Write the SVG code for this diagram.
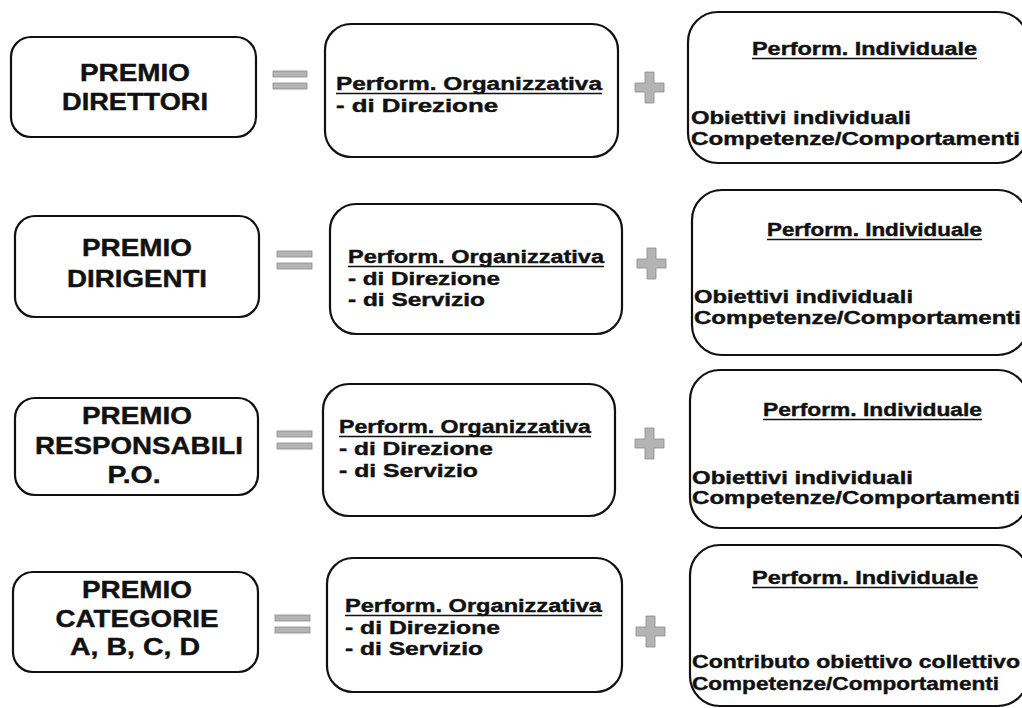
<svg xmlns="http://www.w3.org/2000/svg" width="1022" height="708" viewBox="0 0 1022 708">
<style>
.box{fill:#fff;stroke:#111;stroke-width:2.2}
.t{font-family:"Liberation Sans",Arial,sans-serif;font-weight:bold;fill:#111;stroke:#111;stroke-width:0.4}
.big{font-size:23px;text-anchor:middle}
.mid{font-size:17.5px}
.ul{stroke:#111;stroke-width:1.6}
.op{fill:#b4b4b4;stroke:#8a8a8a;stroke-width:0.8}
</style>
<rect width="1022" height="708" fill="#fff"/>

<!-- Row 1 -->
<g id="premio-direttori">
<rect class="box" x="11" y="37" width="245" height="100" rx="20"/>
<text class="t big" x="135" y="81" textLength="110" lengthAdjust="spacingAndGlyphs">PREMIO</text>
<text class="t big" x="135" y="110" textLength="146" lengthAdjust="spacingAndGlyphs">DIRETTORI</text>
</g>
<g id="org-direttori">
<rect class="box" x="325" y="24" width="293" height="133" rx="26"/>
<text class="t mid" x="336" y="90" textLength="266" lengthAdjust="spacingAndGlyphs">Perform. Organizzativa</text>
<line class="ul" x1="336" y1="93.5" x2="602" y2="93.5"/>
<text class="t mid" x="336" y="112" textLength="162" lengthAdjust="spacingAndGlyphs">-  di Direzione</text>
</g>
<g id="ind-direttori">
<rect class="box" x="688" y="12" width="340" height="151" rx="30"/>
<text class="t mid" x="752" y="55" textLength="225" lengthAdjust="spacingAndGlyphs">Perform. Individuale</text>
<line class="ul" x1="752" y1="58.5" x2="977" y2="58.5"/>
<text class="t mid" x="691" y="124" textLength="220" lengthAdjust="spacingAndGlyphs">Obiettivi individuali</text>
<text class="t mid" x="691" y="145" textLength="329" lengthAdjust="spacingAndGlyphs">Competenze/Comportamenti</text>
</g>

<!-- Row 2 -->
<g id="premio-dirigenti">
<rect class="box" x="15" y="216" width="244" height="101" rx="20"/>
<text class="t big" x="137" y="256" textLength="110" lengthAdjust="spacingAndGlyphs">PREMIO</text>
<text class="t big" x="137" y="287" textLength="140" lengthAdjust="spacingAndGlyphs">DIRIGENTI</text>
</g>
<g id="org-dirigenti">
<rect class="box" x="330" y="204" width="292" height="130" rx="26"/>
<text class="t mid" x="348" y="263" textLength="256" lengthAdjust="spacingAndGlyphs">Perform. Organizzativa</text>
<line class="ul" x1="348" y1="266.5" x2="604" y2="266.5"/>
<text class="t mid" x="348" y="285" textLength="152" lengthAdjust="spacingAndGlyphs">-  di Direzione</text>
<text class="t mid" x="348" y="306" textLength="137" lengthAdjust="spacingAndGlyphs">-  di Servizio</text>
</g>
<g id="ind-dirigenti">
<rect class="box" x="692" y="190" width="336" height="165" rx="30"/>
<text class="t mid" x="767" y="236" textLength="215" lengthAdjust="spacingAndGlyphs">Perform. Individuale</text>
<line class="ul" x1="767" y1="239.5" x2="982" y2="239.5"/>
<text class="t mid" x="694" y="303" textLength="219" lengthAdjust="spacingAndGlyphs">Obiettivi individuali</text>
<text class="t mid" x="694" y="324" textLength="327" lengthAdjust="spacingAndGlyphs">Competenze/Comportamenti</text>
</g>

<!-- Row 3 -->
<g id="premio-responsabili">
<rect class="box" x="15" y="398" width="243" height="97" rx="20"/>
<text class="t big" x="137" y="424" textLength="110" lengthAdjust="spacingAndGlyphs">PREMIO</text>
<text class="t big" x="139" y="454" textLength="208" lengthAdjust="spacingAndGlyphs">RESPONSABILI</text>
<text class="t big" x="134" y="483" textLength="53" lengthAdjust="spacingAndGlyphs">P.O.</text>
</g>
<g id="org-responsabili">
<rect class="box" x="323" y="384" width="292" height="132" rx="26"/>
<text class="t mid" x="339" y="433" textLength="252" lengthAdjust="spacingAndGlyphs">Perform. Organizzativa</text>
<line class="ul" x1="339" y1="436.5" x2="591" y2="436.5"/>
<text class="t mid" x="339" y="455" textLength="154" lengthAdjust="spacingAndGlyphs">-  di Direzione</text>
<text class="t mid" x="339" y="477" textLength="139" lengthAdjust="spacingAndGlyphs">-  di Servizio</text>
</g>
<g id="ind-responsabili">
<rect class="box" x="690" y="370" width="338" height="158" rx="30"/>
<text class="t mid" x="763" y="416" textLength="219" lengthAdjust="spacingAndGlyphs">Perform. Individuale</text>
<line class="ul" x1="763" y1="419.5" x2="982" y2="419.5"/>
<text class="t mid" x="692" y="484" textLength="221" lengthAdjust="spacingAndGlyphs">Obiettivi individuali</text>
<text class="t mid" x="692" y="504" textLength="328" lengthAdjust="spacingAndGlyphs">Competenze/Comportamenti</text>
</g>

<!-- Row 4 -->
<g id="premio-categorie">
<rect class="box" x="13" y="572" width="245" height="100" rx="20"/>
<text class="t big" x="137" y="598" textLength="110" lengthAdjust="spacingAndGlyphs">PREMIO</text>
<text class="t big" x="137" y="627" textLength="163" lengthAdjust="spacingAndGlyphs">CATEGORIE</text>
<text class="t big" x="135" y="655" textLength="130" lengthAdjust="spacingAndGlyphs">A, B, C, D</text>
</g>
<g id="org-categorie">
<rect class="box" x="327" y="558" width="295" height="134" rx="26"/>
<text class="t mid" x="345" y="612" textLength="257" lengthAdjust="spacingAndGlyphs">Perform. Organizzativa</text>
<line class="ul" x1="345" y1="615.5" x2="602" y2="615.5"/>
<text class="t mid" x="345" y="634" textLength="155" lengthAdjust="spacingAndGlyphs">-  di Direzione</text>
<text class="t mid" x="345" y="655" textLength="138" lengthAdjust="spacingAndGlyphs">-  di Servizio</text>
</g>
<g id="ind-categorie">
<rect class="box" x="690" y="545" width="338" height="161" rx="30"/>
<text class="t mid" x="752" y="584" textLength="226" lengthAdjust="spacingAndGlyphs">Perform. Individuale</text>
<line class="ul" x1="752" y1="587.5" x2="978" y2="587.5"/>
<text class="t mid" x="692" y="668" textLength="328" lengthAdjust="spacingAndGlyphs">Contributo obiettivo collettivo</text>
<text class="t mid" x="692" y="690" textLength="307" lengthAdjust="spacingAndGlyphs">Competenze/Comportamenti</text>
</g>

<!-- operators -->
<g id="operators">
<g id="eq1"><rect class="op" x="273" y="71" width="34" height="6"/><rect class="op" x="273" y="83" width="34" height="6"/></g>
<g id="eq2"><rect class="op" x="277" y="251" width="35" height="6"/><rect class="op" x="277" y="263" width="35" height="6"/></g>
<g id="eq3"><rect class="op" x="277" y="431" width="35" height="6"/><rect class="op" x="277" y="443" width="35" height="6"/></g>
<g id="eq4"><rect class="op" x="275" y="615" width="35" height="6"/><rect class="op" x="275" y="627" width="35" height="6"/></g>
<path id="plus1" class="op" d="M645 72h9v11h10v9h-10v11h-9v-11h-10v-9h10z"/>
<path id="plus2" class="op" d="M647 248h9v11h10v9h-10v11h-9v-11h-10v-9h10z"/>
<path id="plus3" class="op" d="M645 428h9v11h10v9h-10v11h-9v-11h-10v-9h10z"/>
<path id="plus4" class="op" d="M646 616h9v11h10v9h-10v11h-9v-11h-10v-9h10z"/>
</g>
</svg>
